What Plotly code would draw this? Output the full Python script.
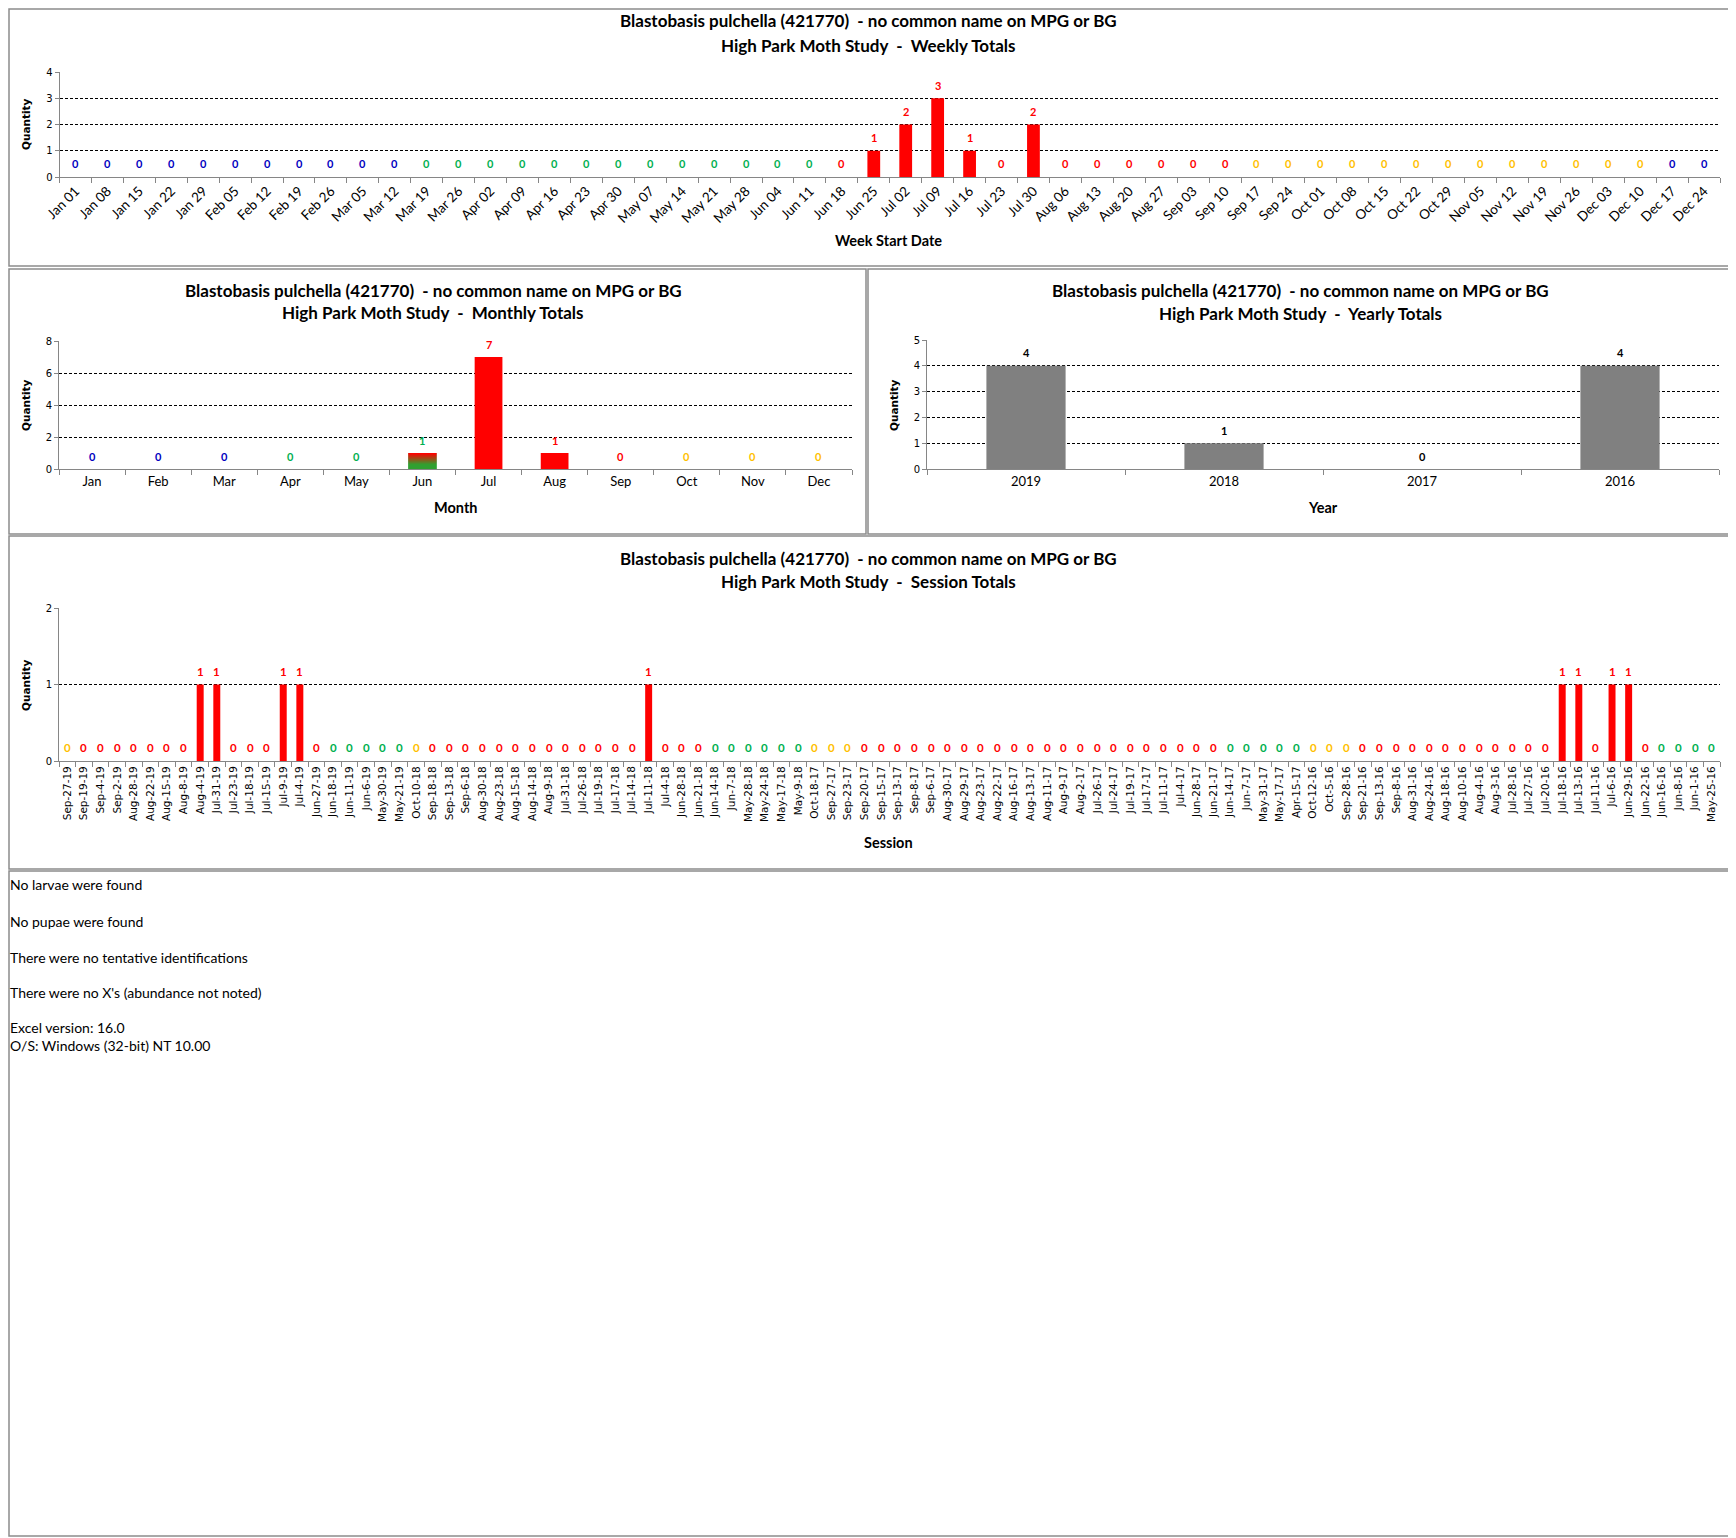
import datetime as dt
import plotly.graph_objects as go

# The page is shown with the browser's default 8px body margin: the figure starts
# 8px in, so every reference position is shifted by that margin.
PAGE_MARGIN = 8
W, H = 1728, 1530

# ---------------- data ----------------
title_line1 = "Blastobasis pulchella (421770)  - no common name on MPG or BG"

week_labels = ["Jan 01", "Jan 08", "Jan 15", "Jan 22", "Jan 29", "Feb 05", "Feb 12", "Feb 19",
               "Feb 26", "Mar 05", "Mar 12", "Mar 19", "Mar 26", "Apr 02", "Apr 09", "Apr 16",
               "Apr 23", "Apr 30", "May 07", "May 14", "May 21", "May 28", "Jun 04", "Jun 11",
               "Jun 18", "Jun 25", "Jul 02", "Jul 09", "Jul 16", "Jul 23", "Jul 30", "Aug 06",
               "Aug 13", "Aug 20", "Aug 27", "Sep 03", "Sep 10", "Sep 17", "Sep 24", "Oct 01",
               "Oct 08", "Oct 15", "Oct 22", "Oct 29", "Nov 05", "Nov 12", "Nov 19", "Nov 26",
               "Dec 03", "Dec 10", "Dec 17", "Dec 24"]
week_values = [0, 0, 0, 0, 0, 0, 0, 0, 0, 0, 0, 0, 0, 0, 0, 0, 0, 0, 0, 0, 0, 0, 0, 0,
               0, 1, 2, 3, 1, 0, 2, 0, 0, 0, 0, 0, 0, 0, 0, 0, 0, 0, 0, 0, 0, 0, 0, 0,
               0, 0, 0, 0]

month_labels = ["Jan", "Feb", "Mar", "Apr", "May", "Jun", "Jul", "Aug", "Sep", "Oct", "Nov", "Dec"]
month_values = [0, 0, 0, 0, 0, 1, 7, 1, 0, 0, 0, 0]

year_labels = ["2019", "2018", "2017", "2016"]
year_values = [4, 1, 0, 4]

session_labels = [
    "Sep-27-19", "Sep-19-19", "Sep-4-19", "Sep-2-19", "Aug-28-19", "Aug-22-19", "Aug-15-19",
    "Aug-8-19", "Aug-4-19", "Jul-31-19", "Jul-23-19", "Jul-18-19", "Jul-15-19", "Jul-9-19",
    "Jul-4-19", "Jun-27-19", "Jun-18-19", "Jun-11-19", "Jun-6-19", "May-30-19", "May-21-19",
    "Oct-10-18", "Sep-18-18", "Sep-13-18", "Sep-6-18", "Aug-30-18", "Aug-23-18", "Aug-15-18",
    "Aug-14-18", "Aug-9-18", "Jul-31-18", "Jul-26-18", "Jul-19-18", "Jul-17-18", "Jul-14-18",
    "Jul-11-18", "Jul-4-18", "Jun-28-18", "Jun-21-18", "Jun-14-18", "Jun-7-18", "May-28-18",
    "May-24-18", "May-17-18", "May-9-18",
    "Oct-18-17", "Sep-27-17", "Sep-23-17", "Sep-20-17", "Sep-15-17", "Sep-13-17", "Sep-8-17",
    "Sep-6-17", "Aug-30-17", "Aug-29-17", "Aug-23-17", "Aug-22-17", "Aug-16-17", "Aug-13-17",
    "Aug-11-17", "Aug-9-17", "Aug-2-17", "Jul-26-17", "Jul-24-17", "Jul-19-17", "Jul-17-17",
    "Jul-11-17", "Jul-4-17", "Jun-28-17", "Jun-21-17", "Jun-14-17", "Jun-7-17", "May-31-17",
    "May-17-17", "Apr-15-17",
    "Oct-12-16", "Oct-5-16", "Sep-28-16", "Sep-21-16", "Sep-13-16", "Sep-8-16", "Aug-31-16",
    "Aug-24-16", "Aug-18-16", "Aug-10-16", "Aug-4-16", "Aug-3-16", "Jul-28-16", "Jul-27-16",
    "Jul-20-16", "Jul-18-16", "Jul-13-16", "Jul-11-16", "Jul-6-16", "Jun-29-16", "Jun-22-16",
    "Jun-16-16", "Jun-8-16", "Jun-1-16", "May-25-16"]
session_values = [
    0, 0, 0, 0, 0, 0, 0, 0, 1, 1, 0, 0, 0, 1, 1, 0, 0, 0, 0, 0, 0,
    0, 0, 0, 0, 0, 0, 0, 0, 0, 0, 0, 0, 0, 0, 1, 0, 0, 0, 0, 0, 0, 0, 0, 0,
    0, 0, 0, 0, 0, 0, 0, 0, 0, 0, 0, 0, 0, 0, 0, 0, 0, 0, 0, 0, 0, 0, 0, 0, 0, 0, 0, 0, 0, 0,
    0, 0, 0, 0, 0, 0, 0, 0, 0, 0, 0, 0, 0, 0, 0, 1, 1, 0, 1, 1, 0, 0, 0, 0, 0]

notes = ["No larvae were found", "No pupae were found", "There were no tentative identifications",
         "There were no X's (abundance not noted)", "Excel version: 16.0",
         "O/S: Windows (32-bit) NT 10.00"]

# ---------------- styling helpers ----------------
SEASON_COLORS = {"winter": "#0000C0", "spring": "#00B050", "summer": "#FF0000", "fall": "#FFC000"}
MONTHS = {m: i + 1 for i, m in enumerate(month_labels)}


def season_of(month, day):
    md = (month, day)
    if md < (3, 20) or md >= (12, 21):
        return "winter"
    if md < (6, 21):
        return "spring"
    if md < (9, 22):
        return "summer"
    return "fall"


def week_color(lbl):
    m, d = lbl.split()
    end = dt.date(2019, MONTHS[m], int(d)) + dt.timedelta(days=6)
    return SEASON_COLORS[season_of(end.month, end.day)]


def session_color(lbl):
    m, d, _ = lbl.split("-")
    return SEASON_COLORS[season_of(MONTHS[m], int(d))]


def month_color(lbl):
    return SEASON_COLORS[season_of(MONTHS[lbl], 1)]


def fx(x):
    return (x - PAGE_MARGIN) / W


def fy(y):
    return 1 - (y - PAGE_MARGIN) / H


LBL = "Lato"
TAH = "DejaVu Sans"
GRAY = "#868686"

fig = go.Figure()
annotations = []
shapes = []


def add_axes(n, xdom, ydom, ncat, yrange, dtick, tickangle, tickfont):
    xs = "xaxis" if n == 1 else f"xaxis{n}"
    ys = "yaxis" if n == 1 else f"yaxis{n}"
    yref = "y" if n == 1 else f"y{n}"
    xref = "x" if n == 1 else f"x{n}"
    fig.update_layout(**{
        xs: dict(domain=[fx(xdom[0]), fx(xdom[1])], anchor=yref, type="category",
                 range=[-0.5, ncat - 0.5], autorange=False, automargin=False,
                 showline=True, linecolor=GRAY, linewidth=1, ticks="outside", tickson="boundaries",
                 ticklen=5, tickcolor=GRAY, showgrid=False, tickangle=tickangle,
                 tickfont=tickfont, fixedrange=True),
        ys: dict(domain=[fy(ydom[0]), fy(ydom[1])], anchor=xref, range=yrange, autorange=False,
                 automargin=False, dtick=dtick, showline=True, linecolor=GRAY, linewidth=1,
                 ticks="outside", ticklen=4, tickcolor=GRAY, showgrid=True, gridcolor="black",
                 gridwidth=1, griddash="3px,2px", zeroline=False,
                 tickfont=dict(family=TAH, size=10, color="black"), fixedrange=True),
    })
    return xref, yref


def add_labels(xref, yref, vals, colors, size=11):
    for i, (v, col) in enumerate(zip(vals, colors)):
        annotations.append(dict(x=i, y=v, xref=xref, yref=yref, text=f"<b>{v}</b>", showarrow=False,
                                yshift=13, yanchor="middle", font=dict(family=LBL, size=size, color=col)))


def add_title(cx, y1, y2, subtitle):
    annotations.append(dict(x=fx(cx), y=fy(y1), xref="paper", yref="paper", text=f"<b>{title_line1}</b>",
                            showarrow=False, xanchor="center", yanchor="middle",
                            font=dict(family=LBL, size=17, color="black")))
    annotations.append(dict(x=fx(cx), y=fy(y2), xref="paper", yref="paper",
                            text=f"<b>High Park Moth Study  -  {subtitle}</b>",
                            showarrow=False, xanchor="center", yanchor="middle",
                            font=dict(family=LBL, size=17, color="black")))


def add_axis_titles(cx, xy, xtitle, qx, qy):
    annotations.append(dict(x=fx(cx), y=fy(xy), xref="paper", yref="paper", text=f"<b>{xtitle}</b>",
                            showarrow=False, xanchor="center", yanchor="middle",
                            font=dict(family=LBL, size=14.5, color="black")))
    annotations.append(dict(x=fx(qx), y=fy(qy), xref="paper", yref="paper", text="<b>Quantity</b>",
                            showarrow=False, xanchor="center", yanchor="middle", textangle=-90,
                            font=dict(family=TAH, size=10.5, color="black")))


# ---------------- weekly ----------------
xr, yr = add_axes(1, (59.5, 1720), (177, 72), len(week_labels), [0, 4], 1, -45,
                  dict(family=LBL, size=13.5, color="black"))
wcols = [week_color(l) for l in week_labels]
fig.add_trace(go.Bar(x=week_labels, y=week_values, xaxis=xr, yaxis=yr, width=0.4,
                     marker=dict(color=wcols, line=dict(width=0))))
add_labels(xr, yr, week_values, wcols)
add_title(868, 21, 45, "Weekly Totals")
add_axis_titles(889, 240, "Week Start Date", 26, 124)

# ---------------- monthly ----------------
xr, yr = add_axes(2, (59, 852), (469, 341), len(month_labels), [0, 8], 2, 0,
                  dict(family=LBL, size=13, color="black"))
mcols = [month_color(l) for l in month_labels]
fig.add_trace(go.Bar(x=month_labels, y=month_values, xaxis=xr, yaxis=yr, width=0.42,
                     marker=dict(color=mcols, line=dict(width=0))))
# months straddling a season change get a vertical gradient (start season bottom -> next season top)
for i, lbl in enumerate(month_labels):
    v = month_values[i]
    s0 = season_of(MONTHS[lbl], 1)
    s1 = season_of(MONTHS[lbl], 28)
    if v > 0 and s0 != s1:
        nseg = 40
        seg = v / nseg
        c0 = (48, 160, 48)
        c1 = (255, 0, 0)
        cols = []
        for k in range(nseg):
            f = (k + 0.5) / nseg
            t = min(max((f - 0.3) / 0.7, 0), 1)
            cols.append("rgb(%d,%d,%d)" % tuple(round(a + (b - a) * t) for a, b in zip(c0, c1)))
        fig.add_trace(go.Bar(x=[lbl] * nseg, y=[seg] * nseg, base=[k * seg for k in range(nseg)],
                             xaxis=xr, yaxis=yr, width=0.42, marker=dict(color=cols, line=dict(width=0))))
add_labels(xr, yr, month_values, mcols)
add_title(433, 290, 313, "Monthly Totals")
add_axis_titles(455, 508, "Month", 26, 405)

# ---------------- yearly ----------------
xr, yr = add_axes(3, (927, 1719), (469, 340), len(year_labels), [0, 5], 1, 0,
                  dict(family=LBL, size=13, color="black"))
fig.add_trace(go.Bar(x=year_labels, y=year_values, xaxis=xr, yaxis=yr, width=0.4,
                     marker=dict(color="#808080", line=dict(width=0))))
add_labels(xr, yr, year_values, ["black"] * len(year_labels))
add_title(1300, 290, 314, "Yearly Totals")
add_axis_titles(1323, 508, "Year", 894, 405)

# ---------------- session ----------------
xr, yr = add_axes(4, (59, 1720), (761, 608), len(session_labels), [0, 2], 1, -90,
                  dict(family=TAH, size=10.5, color="black"))
scols = [session_color(l) for l in session_labels]
fig.add_trace(go.Bar(x=session_labels, y=session_values, xaxis=xr, yaxis=yr, width=0.42,
                     marker=dict(color=scols, line=dict(width=0))))
add_labels(xr, yr, session_values, scols, size=11.5)
add_title(868, 558, 581, "Session Totals")
add_axis_titles(889, 843, "Session", 26, 685)

# ---------------- notes ----------------
note_y = [884, 921, 957, 992, 1027, 1045]
for t, y in zip(notes, note_y):
    annotations.append(dict(x=fx(8), y=fy(y), xref="paper", yref="paper", text=t, showarrow=False,
                            xanchor="left", yanchor="middle", font=dict(family=LBL, size=14, color="black")))

# ---------------- panel frames ----------------
for (x0, y0, x1, y1) in [(9, 9, 1734, 266), (9, 269, 866, 534), (868, 269, 1734, 534),
                         (9, 536, 1734, 869), (9, 871, 1734, 1536)]:
    shapes.append(dict(type="rect", xref="paper", yref="paper", x0=fx(x0), x1=fx(x1), y0=fy(y0), y1=fy(y1),
                       line=dict(color="#8C8C8C", width=1.5), fillcolor="rgba(0,0,0,0)", layer="below"))

fig.update_layout(width=W, height=H, margin=dict(l=0, r=0, t=0, b=0, pad=0, autoexpand=False),
                  paper_bgcolor="white", plot_bgcolor="white", showlegend=False, barmode="overlay",
                  annotations=annotations, shapes=shapes, font=dict(family=LBL))

fig.write_html("out.html", config={"displayModeBar": False})
